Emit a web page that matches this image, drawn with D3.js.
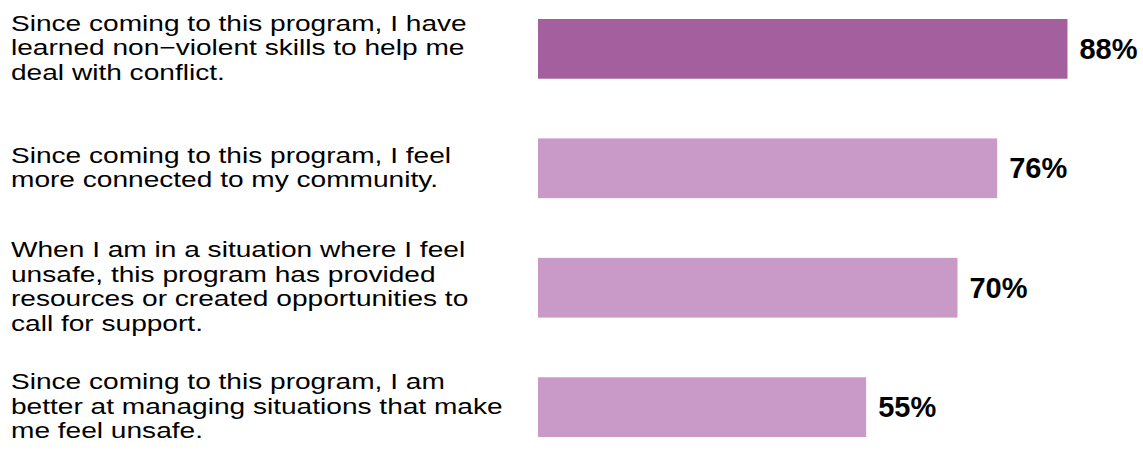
<!DOCTYPE html>
<html>
<head>
<meta charset="utf-8">
<script src="https://cdn.jsdelivr.net/npm/d3@7"></script>
<style>
  html, body { margin: 0; padding: 0; background: #fff; }
  svg { display: block; }
</style>
</head>
<body>
<svg id="chart" width="1143" height="450"></svg>
<script>
const categories = [
  "Since coming to this program, I have learned non\u2212violent skills to help me deal with conflict.",
  "Since coming to this program, I feel more connected to my community.",
  "When I am in a situation where I feel unsafe, this program has provided resources or created opportunities to call for support.",
  "Since coming to this program, I am better at managing situations that make me feel unsafe."
];
const labelLines = [
  ["Since coming to this program, I have", "learned non\u2212violent skills to help me", "deal with conflict."],
  ["Since coming to this program, I feel", "more connected to my community."],
  ["When I am in a situation where I feel", "unsafe, this program has provided", "resources or created opportunities to", "call for support."],
  ["Since coming to this program, I am", "better at managing situations that make", "me feel unsafe."]
];
const values = [88.1, 76.4, 69.8, 54.6];
const highlight = [true, false, false, false];

const svg = d3.select("#chart");
const x = d3.scaleLinear().domain([0, 100]).range([538, 1139]);
const y = d3.scaleBand().domain(categories).range([19, 437]).paddingInner(0.5).paddingOuter(0);

svg.selectAll("rect.bar").data(categories).join("rect")
  .attr("class", "bar")
  .attr("x", x(0))
  .attr("y", d => y(d))
  .attr("width", (d, i) => x(values[i]) - x(0))
  .attr("height", y.bandwidth())
  .attr("fill", (d, i) => highlight[i] ? "#A35F9E" : "#C999C8");

svg.selectAll("text.val").data(categories).join("text")
  .attr("class", "val")
  .attr("x", (d, i) => x(values[i]) + 12)
  .attr("y", d => y(d) + y.bandwidth() / 2)
  .attr("dy", "0.35em")
  .attr("font-family", "'Liberation Sans', Arial, sans-serif")
  .attr("font-weight", "bold")
  .attr("font-size", 29)
  .attr("fill", "#000")
  .text((d, i) => Math.round(values[i]) + "%");

const lh = 24.5;
const labG = svg.append("g").attr("transform", "translate(11,0) scale(1.3,1)");
const lab = labG.selectAll("text.lab").data(categories).join("text")
  .attr("class", "lab")
  .attr("font-family", "'Liberation Sans', Arial, sans-serif")
  .attr("font-size", 21.6)
  .attr("fill", "#000");
lab.each(function(d, i) {
  const lines = labelLines[i];
  const cy = y(d) + y.bandwidth() / 2;
  d3.select(this).selectAll("tspan").data(lines).join("tspan")
    .attr("x", 0)
    .attr("y", (l, j) => cy + (j - (lines.length - 1) / 2) * lh + 6.5)
    .text(l => l);
});
</script>
</body>
</html>
